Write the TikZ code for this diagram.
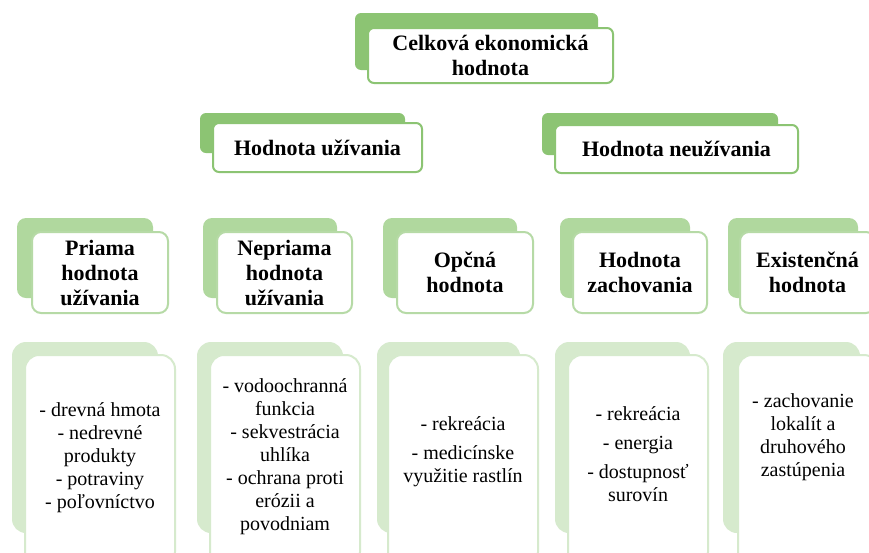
\documentclass[tikz,border=0pt]{standalone}
\usepackage{fontspec}
\setmainfont{Liberation Serif}
\usetikzlibrary{backgrounds}
\definecolor{gA}{HTML}{8CC473}
\definecolor{gB}{HTML}{B0D89E}
\definecolor{gC}{HTML}{D6EACD}
\definecolor{fA}{HTML}{8CC473}
\definecolor{fB}{HTML}{B6DAA6}
\definecolor{fC}{HTML}{D6EACD}
\definecolor{lineC}{HTML}{AFD29B}
\newcommand\bx[6]{\node[#6, minimum width={(#4-#2)*1pt}, minimum height={(#5-#3)*1pt}] (#1) at ({(#2+#4)/2},{(#3+#5)/2}) {};}
\tikzset{
  backA/.style={rectangle, fill=gA, rounded corners=6pt, inner sep=0pt},
  backB/.style={rectangle, fill=gB, rounded corners=9pt, inner sep=0pt},
  backC/.style={rectangle, fill=gC, rounded corners=14pt, inner sep=0pt},
  frontA/.style={rectangle, draw=fA, line width=2pt, fill=white, rounded corners=6pt, inner sep=0pt},
  frontB/.style={rectangle, draw=fB, line width=2pt, fill=white, rounded corners=9pt, inner sep=0pt},
  frontC/.style={rectangle, draw=fC, line width=2pt, fill=white, rounded corners=14pt, inner sep=0pt},
  conn/.style={draw=lineC, line width=2.2pt},
  headtxt/.style={align=center, font=\fontsize{22}{25}\selectfont\bfseries, inner sep=0pt},
  bodytxt/.style={align=center, font=\fontsize{20}{23}\selectfont, inner sep=0pt},
}
\begin{document}
\begin{tikzpicture}[x=1pt,y=-1pt]
\useasboundingbox (0,0) rectangle (869,552);
\clip (0,0) rectangle (869,552);
\fill[white] (0,0) rectangle (869,552);
% level 1
\bx{b0}{355}{13}{598}{70}{backA}
\bx{f0}{368}{28}{613}{83}{frontA}
\node[headtxt] (t0) at (f0) {Celková ekonomická\\hodnota};
% level 2
\bx{bU}{200}{113}{405}{153}{backA}
\bx{fU}{213}{123}{422}{172}{frontA}
\node[headtxt] (tU) at (fU) {Hodnota užívania};
\bx{bN}{542}{113}{778}{155}{backA}
\bx{fN}{555}{125}{798}{173}{frontA}
\node[headtxt] (tN) at (fN) {Hodnota neužívania};
% level 3
\bx{p1}{17}{218}{153}{298}{backB}
\bx{g1}{32}{232}{168}{313}{frontB}
\node[headtxt] (s1) at (g1) {Priama\\hodnota\\užívania};
\bx{p2}{203}{218}{337}{298}{backB}
\bx{g2}{217}{232}{352}{313}{frontB}
\node[headtxt] (s2) at (g2) {Nepriama\\hodnota\\užívania};
\bx{p3}{383}{218}{517}{298}{backB}
\bx{g3}{397}{232}{533}{313}{frontB}
\node[headtxt] (s3) at (g3) {Opčná\\hodnota};
\bx{p4}{560}{218}{690}{298}{backB}
\bx{g4}{573}{232}{707}{313}{frontB}
\node[headtxt] (s4) at (g4) {Hodnota\\zachovania};
\bx{p5}{728}{218}{858}{298}{backB}
\bx{g5}{740}{232}{875}{313}{frontB}
\node[headtxt] (s5) at (g5) {Existenčná\\hodnota};
% level 4
\bx{q1}{12}{342}{158}{533}{backC}
\bx{h1}{25}{355}{175}{566}{frontC}
\node[bodytxt] (u1) at (100,458) {- drevná hmota\\- nedrevné\\produkty\\- potraviny\\- poľovníctvo};
\bx{q2}{197}{342}{343}{533}{backC}
\bx{h2}{210}{355}{360}{566}{frontC}
\node[bodytxt] (u2) at (285,457) {- vodoochranná\\funkcia\\- sekvestrácia\\uhlíka\\- ochrana proti\\erózii a\\povodniam};
\bx{q3}{377}{342}{520}{533}{backC}
\bx{h3}{388}{355}{538}{566}{frontC}
\node[bodytxt] (u3) at (463,452) {- rekreácia\\[6pt]- medicínske\\využitie rastlín};
\bx{q4}{555}{342}{690}{533}{backC}
\bx{h4}{568}{355}{708}{566}{frontC}
\node[bodytxt] (u4) at (638,454) {- rekreácia\\[6pt]- energia\\[6pt]- dostupnosť\\surovín};
\bx{q5}{723}{342}{860}{533}{backC}
\bx{h5}{738}{355}{878}{566}{frontC}
\node[bodytxt] (u5) at (803,437) {- zachovanie\\lokalít a\\druhového\\zastúpenia};
% connectors
\coordinate (bus0) at (0,97);
\coordinate (bus1) at (0,203);
\begin{scope}[on background layer]
\draw[conn] (b0.center) -- (b0.center |- bus0) -| (bU.center);
\draw[conn] (b0.center |- bus0) -| (bN.center);
\draw[conn] (bU.center) -- (bU.center |- bus1) -| (p1.center);
\draw[conn] (bU.center |- bus1) -| (p2.center);
\draw[conn] (bU.center |- bus1) -| (p3.center);
\draw[conn] (bN.center) -- (bN.center |- bus1) -| (p4.center);
\draw[conn] (bN.center |- bus1) -| (p5.center);
\draw[conn] (p1.center) -- (p1.center |- q1.center);
\draw[conn] (p2.center) -- (p2.center |- q2.center);
\draw[conn] (p3.center) -- (p3.center |- q3.center);
\draw[conn] (p4.center) -- (p4.center |- q4.center);
\draw[conn] (p5.center) -- (p5.center |- q5.center);
\end{scope}
\end{tikzpicture}
\end{document}
